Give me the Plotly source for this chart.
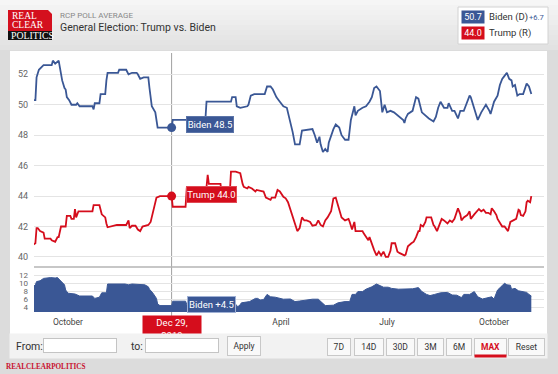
import plotly.graph_objects as go
import pandas as pd

W, H = 558, 374
def px(x): return x / W
def py(y): return 1 - y / H

BLUE = "#3a5795"
RED = "#d50d1c"

# ---------------- data (day offsets from 2019-10-01) ----------------
biden_days = [-30, -28, -27, -25, -21, -14, -13, -11, -8, -7, -5, -3, -2, -1, 1, 3, 7, 8, 9, 10,
              21, 22, 23, 27, 28, 32, 33, 34, 43, 44, 50, 52, 55, 59, 60, 62, 65, 69, 70, 72,
              75, 76, 77, 89, 90, 118, 119, 140, 141, 144, 145, 148, 154, 155, 157, 160, 169, 171, 174, 176,
              179, 181, 185, 188, 191, 193, 195, 199, 201, 210, 212, 214, 216, 217, 219, 221, 223, 224, 228, 230,
              233, 235, 238, 241, 243, 246, 247, 249, 253, 256, 259, 261, 263, 265, 267, 268, 270, 272, 274, 277,
              280, 283, 285, 288, 289, 290, 292, 296, 299, 301, 304, 307, 310, 314, 316, 318, 320, 323, 326, 327,
              330, 332, 335, 337, 340, 342, 345, 346, 348, 351, 352, 355, 357, 359, 362, 363, 366, 369, 371, 373,
              375, 377, 379, 381, 382, 384, 386, 388, 391, 393, 394, 396, 398]
biden_vals = [50.3, 50.3, 51.8, 52.3, 52.6, 52.6, 52.9, 52.7, 52.9, 52.4, 51.6, 51.1, 51.0, 50.5, 50.3, 50.0, 50.0, 50.1, 50.0, 49.9,
              49.9, 49.7, 50.1, 50.1, 50.7, 50.7, 51.6, 52.1, 52.1, 52.3, 52.3, 52.0, 52.1, 52.1, 52.0, 51.7, 51.8, 51.8, 51.1, 49.9,
              49.5, 49.1, 48.5, 48.5, 49.0, 49.0, 50.2, 50.2, 50.5, 50.5, 49.9, 49.8, 49.9, 50.0, 50.6, 50.7, 50.7, 51.2, 51.2, 51.0,
              50.5, 50.3, 49.9, 49.8, 48.9, 48.2, 47.4, 47.4, 48.3, 48.4, 48.0, 47.5, 47.9, 47.4, 46.9, 47.1, 46.9, 47.5, 48.4, 48.7,
              48.5, 48.0, 47.7, 47.7, 49.0, 49.9, 49.3, 49.6, 49.8, 49.9, 50.2, 50.5, 51.1, 51.2, 51.0, 50.9, 49.5, 50.0, 49.5, 49.6,
              49.5, 49.3, 49.15, 49.0, 48.8, 49.1, 49.4, 49.6, 50.5, 50.4, 49.5, 49.3, 49.1, 48.9, 49.2, 49.8, 50.2, 49.8, 49.8, 50.1,
              49.6, 49.6, 49.1, 49.6, 49.6, 50.0, 50.6, 50.5, 50.0, 49.1, 49.0, 49.5, 49.8, 50.0, 49.6, 49.4, 50.2, 50.6, 51.3, 51.7,
              51.9, 52.1, 51.7, 51.6, 51.2, 51.3, 50.6, 50.7, 50.7, 51.1, 51.4, 51.2, 50.7]

trump_days = [-30, -28, -27, -26, -24, -21, -20, -15, -14, -11, -9, -8, -6, -2, -1, 2, 3, 5, 6, 7,
              9, 21, 22, 27, 29, 32, 33, 34, 42, 50, 52, 53, 55, 58, 60, 62, 64, 69, 71, 73,
              75, 76, 79, 89, 90, 101, 102, 119, 120, 121, 131, 132, 139, 140, 144, 148, 150, 151, 154, 155,
              158, 161, 162, 166, 168, 170, 174, 175, 178, 180, 182, 185, 187, 189, 191, 193, 195, 197, 199, 201,
              203, 205, 208, 210, 213, 215, 217, 219, 221, 223, 226, 228, 230, 232, 234, 235, 238, 241, 242, 244,
              246, 247, 250, 253, 254, 256, 258, 259, 261, 263, 265, 267, 269, 271, 273, 275, 277, 278, 281, 283,
              285, 289, 290, 292, 295, 297, 299, 301, 302, 303, 305, 307, 308, 312, 314, 315, 317, 320, 321, 323,
              325, 326, 328, 330, 332, 335, 337, 338, 340, 343, 345, 346, 349, 351, 353, 355, 357, 359, 361, 363,
              364, 366, 368, 369, 371, 373, 375, 376, 378, 380, 383, 385, 387, 388, 389, 391, 393, 394, 395, 397,
              398]
trump_vals = [40.8, 40.9, 41.9, 41.9, 41.7, 41.6, 41.2, 41.2, 41.1, 41.0, 41.3, 41.3, 42.0, 42.0, 42.7, 42.7, 42.5, 42.5, 43.15, 42.6,
              43.0, 43.0, 43.4, 43.4, 42.8, 42.6, 42.2, 41.95, 42.1, 42.1, 42.4, 41.9, 42.05, 42.05, 41.8, 41.7, 42.0, 42.1, 42.3, 43.0,
              43.6, 43.9, 44.0, 44.0, 43.3, 43.3, 44.5, 44.6, 45.4, 44.8, 44.8, 44.2, 44.2, 45.6, 45.6, 45.5, 44.8, 44.6, 44.5, 44.6,
              44.5, 44.3, 44.4, 44.35, 44.3, 43.9, 43.75, 43.9, 43.9, 44.4, 44.3, 43.95, 43.85, 43.6, 43.1, 42.6, 42.1, 41.7, 41.9, 42.6,
              42.4, 42.4, 42.3, 42.05, 42.1, 42.4, 42.1, 42.0, 42.4, 42.6, 43.0, 43.85, 43.9, 43.4, 42.8, 42.6, 42.4, 42.5, 42.3, 41.8,
              42.3, 41.7, 41.7, 41.7, 41.55, 41.3, 41.1, 41.3, 40.8, 40.45, 40.1, 40.35, 40.1, 40.35, 40.0, 40.0, 40.4, 40.9, 40.9, 40.35,
              40.25, 40.1, 40.15, 40.7, 40.9, 41.0, 41.3, 41.7, 41.7, 42.1, 42.0, 42.3, 42.6, 42.6, 42.1, 42.0, 41.7, 42.3, 42.5, 42.4,
              42.3, 42.2, 42.4, 42.3, 42.5, 43.2, 42.8, 42.4, 42.6, 42.75, 43.0, 42.5, 42.8, 43.0, 43.15, 43.0, 43.1, 42.9, 42.9, 42.8,
              43.2, 43.0, 42.75, 42.5, 42.2, 42.0, 42.0, 41.9, 41.7, 42.3, 42.4, 42.5, 43.1, 43.05, 42.75, 42.7, 43.0, 43.6, 43.7, 43.6,
              44.0]

spread_days = [-30, -28, -27, -24, -21, -15, -11, -9, -7, -5, -3, -2, 0, 6, 8, 10, 21, 23, 27, 29,
               33, 34, 49, 52, 55, 66, 69, 70, 73, 76, 77, 79, 89, 90, 101, 102, 118, 119, 120, 131,
               139, 140, 144, 145, 147, 149, 156, 161, 163, 165, 168, 171, 174, 178, 185, 191, 195, 199, 205, 210,
               215, 218, 221, 228, 232, 238, 242, 244, 247, 249, 253, 256, 261, 265, 268, 271, 275, 278, 284, 290,
               296, 301, 304, 308, 311, 315, 320, 326, 330, 334, 338, 340, 345, 349, 352, 356, 360, 364, 366, 369,
               373, 375, 377, 380, 381, 384, 387, 390, 394, 396, 398]
spread_vals = [9.2, 9.7, 10.5, 10.7, 11.3, 11.5, 11.4, 11.5, 10.9, 10.2, 9.7, 8.4, 7.6, 7.4, 7.15, 6.9, 6.9, 6.3, 6.6, 7.7,
               7.7, 9.9, 9.9, 9.7, 9.9, 9.7, 9.2, 8.6, 7.6, 6.3, 4.9, 4.5, 4.5, 5.6, 5.6, 4.8, 4.8, 5.6, 4.8, 5.4,
               5.9, 4.6, 4.9, 4.3, 4.4, 5.2, 5.5, 6.3, 6.3, 5.9, 6.0, 7.3, 6.7, 6.6, 6.1, 6.15, 5.5, 5.65, 5.9, 6.1,
               6.1, 5.3, 4.5, 4.6, 5.2, 5.5, 5.5, 7.3, 7.3, 8.0, 8.0, 8.6, 9.2, 9.9, 9.5, 9.1, 9.1, 8.8, 8.6, 8.7,
               8.7, 9.0, 8.0, 7.3, 7.0, 7.3, 7.7, 7.8, 7.15, 7.1, 6.5, 7.3, 7.3, 8.0, 6.7, 6.15, 6.5, 6.7, 6.15, 8.4,
               9.5, 10.1, 9.7, 9.6, 8.6, 8.8, 8.2, 8.0, 7.8, 7.3, 6.9]

base_date = pd.Timestamp("2019-10-01")
month_tick_days = [0, 183, 274, 366]
month_labels = ["October", "April", "July", "October"]
main_ticks = [40, 42, 44, 46, 48, 50, 52]
nav_ticks = [4, 6, 8, 10, 12]
hover_day = 89
hover_flag = "Dec 29,<br>2019"
title_small = "RCP POLL AVERAGE"
title_main = "General Election: Trump vs. Biden"
range_buttons = ["7D", "14D", "30D", "3M", "6M", "MAX", "Reset"]

def to_dates(days):
    return [base_date + pd.Timedelta(days=d) for d in days]

bd, td, sd = to_dates(biden_days), to_dates(trump_days), to_dates(spread_days)
hover_date = base_date + pd.Timedelta(days=hover_day)
b_hover = biden_vals[biden_days.index(hover_day)]
t_hover = trump_vals[trump_days.index(hover_day)]
s_hover = spread_vals[spread_days.index(hover_day)]
b_last, t_last = biden_vals[-1], trump_vals[-1]

FONT = "Roboto, Liberation Sans, sans-serif"
SERIF = "Liberation Serif, DejaVu Serif, serif"

fig = go.Figure()
fig.add_trace(go.Scatter(x=bd, y=biden_vals, mode="lines", line=dict(color=BLUE, width=1.8),
                         xaxis="x", yaxis="y", hoverinfo="skip"))
fig.add_trace(go.Scatter(x=td, y=trump_vals, mode="lines", line=dict(color=RED, width=1.8),
                         xaxis="x", yaxis="y", hoverinfo="skip"))
fig.add_trace(go.Scatter(x=[hover_date, hover_date], y=[b_hover, t_hover], mode="markers",
                         marker=dict(color=[BLUE, RED], size=9), xaxis="x", yaxis="y", hoverinfo="skip"))
fig.add_trace(go.Scatter(x=sd, y=spread_vals, mode="lines", fill="tozeroy", fillcolor=BLUE,
                         line=dict(color=BLUE, width=1), xaxis="x2", yaxis="y2", hoverinfo="skip"))

xr = [base_date + pd.Timedelta(days=-29.2), base_date + pd.Timedelta(days=408.9)]
dom_x = [px(34), px(544)]

shapes = []
# header gradient bands
n = 10
for i in range(n):
    g = int(246 - (246 - 226) * i / (n - 1))
    shapes.append(dict(type="rect", xref="paper", yref="paper", x0=0, x1=1, y0=py(5 * (i + 1)), y1=py(5 * i),
                       fillcolor=f"rgb({g},{g},{g})", line=dict(width=0), layer="below"))
# white panel
shapes.append(dict(type="rect", xref="paper", yref="paper", x0=px(10), x1=px(547), y0=py(358), y1=py(51),
                   fillcolor="white", line=dict(width=0), layer="below"))
# logo
shapes.append(dict(type="path", xref="paper", yref="paper",
                   path=f"M {px(8)},{py(10)} L {px(48)},{py(10)} L {px(52)},{py(14)} L {px(52)},{py(31)} L {px(8)},{py(31)} Z",
                   fillcolor="#d4101e", line=dict(width=0), layer="below"))
shapes.append(dict(type="rect", xref="paper", yref="paper", x0=px(8), x1=px(52), y0=py(40), y1=py(31),
                   fillcolor="#111111", line=dict(width=0), layer="below"))
# legend box
shapes.append(dict(type="rect", xref="paper", yref="paper", x0=px(458), x1=px(548), y0=py(44), y1=py(7),
                   fillcolor="white", line=dict(color="#d2d2d2", width=1), layer="below"))
# separator between main and navigator
shapes.append(dict(type="line", xref="paper", yref="paper", x0=px(34), x1=px(544), y0=py(267), y1=py(267),
                   line=dict(color="#b4b4b4", width=1.5), layer="above"))
# crosshair
shapes.append(dict(type="line", xref="x", yref="paper", x0=hover_date, x1=hover_date, y0=py(316), y1=py(53),
                   line=dict(color="#a0a0a0", width=1), layer="between"))

ann = []
def A(text, x, y, size=9, color="#333", xanchor="left", family=FONT, **kw):
    d = dict(text=text, x=px(x), y=py(y), xref="paper", yref="paper", showarrow=False,
             xanchor=xanchor, yanchor="middle", font=dict(size=size, color=color, family=family))
    d.update(kw)
    ann.append(d)

def BOX(text, cx, cy, w, h, bg, size=9, color="white", border=None, family=FONT, **kw):
    d = dict(text=text, x=px(cx), y=py(cy), xref="paper", yref="paper", showarrow=False,
             xanchor="center", yanchor="middle", width=w, height=h, bgcolor=bg, borderpad=0,
             font=dict(size=size, color=color, family=family))
    if border:
        d.update(bordercolor=border, borderwidth=1)
    d.update(kw)
    ann.append(d)

# logo text
A("REAL", 10, 16.5, size=9.5, color="white", family=SERIF)
A("CLEAR", 10, 25.5, size=9.5, color="white", family=SERIF)
A("POLITICS", 8.5, 35.5, size=9.8, color="white", family=SERIF)
# titles
A(title_small, 58, 15, size=8, color="#888888")
A(title_main, 58, 27.5, size=10.5, color="#333333")
# legend
BOX(f"{b_last:.1f}", 473, 17, 22, 12, BLUE, size=9)
BOX(f"{t_last:.1f}", 473, 33, 22, 12, RED, size=9)
A("Biden (D)", 487, 17, size=9.5, color="#333")
A(f"+{b_last - t_last:.1f}", 527, 17.5, size=7.5, color=BLUE)
A("Trump (R)", 487, 33, size=9.5, color="#333")

# hover labels attached to the data
ann.append(dict(text=f"Biden {b_hover:.1f}", x=hover_date, y=b_hover, xref="x", yref="y", showarrow=False,
                xanchor="left", yanchor="middle", xshift=14, yshift=3, width=46, height=15, bgcolor=BLUE,
                bordercolor="#5b74a8", borderwidth=1, borderpad=0, font=dict(size=9.5, color="white", family=FONT)))
ann.append(dict(text=f"Trump {t_hover:.1f}", x=hover_date, y=t_hover, xref="x", yref="y", showarrow=False,
                xanchor="left", yanchor="middle", xshift=14, yshift=1.5, width=49, height=15, bgcolor=RED,
                bordercolor="#e04a55", borderwidth=1, borderpad=0, font=dict(size=9.5, color="white", family=FONT)))
ann.append(dict(text=f"Biden +{s_hover:.1f}", x=hover_date, y=s_hover, xref="x2", yref="y2", showarrow=False,
                xanchor="left", yanchor="middle", xshift=15, yshift=1, width=47, height=15, bgcolor=BLUE,
                bordercolor="#9fb0d4", borderwidth=1, borderpad=0, font=dict(size=9.5, color="white", family=FONT)))
# date flag
ann.append(dict(text=hover_flag, x=hover_date, y=py(329), xref="x", yref="paper", showarrow=False,
                xanchor="center", yanchor="middle", width=58, height=26, bgcolor=RED, borderpad=0,
                font=dict(size=9.5, color="white", family=FONT)))
# control row cover
BOX(" ", 278.5, 346, 537, 24, "#f2f2f2", size=1)
A("From:", 14, 346, size=10.5, color="#333")
BOX(" ", 80, 345.5, 72, 13, "white", size=1, border="#c4c4c4")
A("to:", 129, 346, size=10.5, color="#333")
BOX(" ", 182, 345.5, 72, 13, "white", size=1, border="#c4c4c4")
BOX("Apply", 243.5, 346, 32, 18, "#f9f9f9", size=8.5, color="#333", border="#c8c8c8")
btn_geo = [(339, 22), (369, 28), (400.5, 27), (430.5, 25), (459, 24), (490.5, 31), (526.5, 35)]
for label, (cx, w) in zip(range_buttons, btn_geo):
    if label == "MAX":
        BOX("<b>MAX</b>", cx, 346.5, w, 16, "#f9f9f9", size=8.5, color=RED, border="#c8c8c8")
    else:
        BOX(label, cx, 346.5, w, 16, "#f9f9f9", size=8.5, color="#333", border="#c8c8c8")
BOX(" ", 490.5, 355.5, 31, 2, RED, size=1)
# footer
A("<b>REALCLEARPOLITICS</b>", 4, 367, size=7.2, color="#c8102e", family=SERIF)

fig.update_layout(
    width=W, height=H, autosize=False,
    margin=dict(l=0, r=0, t=0, b=0),
    paper_bgcolor="#dcdcdc", plot_bgcolor="#fcfcfe",
    showlegend=False, hovermode=False,
    font=dict(family=FONT),
    shapes=shapes, annotations=ann,
    xaxis=dict(domain=dom_x, range=xr, type="date", anchor="y", showticklabels=False, showgrid=False,
               zeroline=False, showline=False, fixedrange=True),
    yaxis=dict(domain=[py(267), py(53)], range=[39.34, 53.4], tickvals=main_ticks, anchor="x",
               gridcolor="#e4e4e4", gridwidth=1, zeroline=False, showline=False, ticks="",
               tickfont=dict(size=9, color="#666"), ticklabelstandoff=5, fixedrange=True),
    xaxis2=dict(domain=dom_x, range=xr, type="date", anchor="y2", showgrid=False, zeroline=False,
                showline=False, ticks="", tickvals=to_dates(month_tick_days), ticktext=month_labels,
                tickfont=dict(size=8.5, color="#444"), ticklabelstandoff=3, fixedrange=True),
    yaxis2=dict(domain=[py(312), py(268)], range=[2.9, 13.9], tickvals=nav_ticks, anchor="x2",
                gridcolor="#e4e4e4", gridwidth=1, zeroline=False, showline=False, ticks="",
                tickfont=dict(size=8, color="#666"), ticklabelstandoff=5, fixedrange=True),
)

fig.write_html("out.html", config={"displayModeBar": False},
               post_script="document.body.style.margin='0';document.body.style.overflow='hidden';")
